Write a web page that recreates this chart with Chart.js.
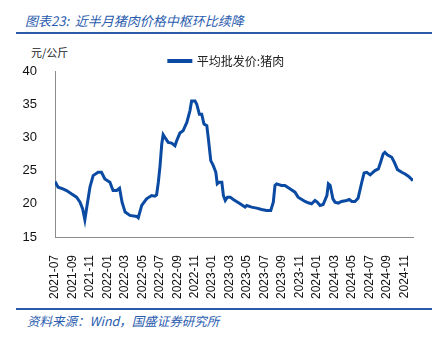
<!DOCTYPE html>
<html><head><meta charset="utf-8">
<script src="https://cdn.jsdelivr.net/npm/chart.js@4"></script>
<style>
html,body{margin:0;padding:0;background:#fff;}
#wrap{position:relative;width:444px;height:341px;overflow:hidden;}
#c{position:absolute;left:0;top:0;}
.title{position:absolute;left:25px;top:11px;font:italic 13px "Noto Sans CJK SC",sans-serif;color:#2a5cae;white-space:nowrap;}
.rule{position:absolute;left:16px;width:416px;height:2px;background:#2a5aa8;}
.unit{position:absolute;left:31px;top:44px;font:11px "Noto Sans CJK SC",sans-serif;color:#222;}
.src{position:absolute;left:27px;top:311px;font:italic 12.5px "Noto Sans CJK SC",sans-serif;color:#2a5cae;white-space:nowrap;}
</style></head>
<body><div id="wrap">
<div class="title">图表23:&nbsp;&nbsp;近半月猪肉价格中枢环比续降</div>
<div class="rule" style="top:32px"></div>
<div class="unit">元/公斤</div>
<canvas id="c" width="444" height="300"></canvas>
<div class="rule" style="top:308px"></div>
<div class="src">资料来源：Wind，国盛证券研究所</div>
</div>
<script>
const seriesName = '平均批发价:猪肉';
const dates = ['2021-07-01','2021-07-12','2021-07-29','2021-08-11','2021-08-28','2021-09-15','2021-09-27','2021-10-06','2021-10-14','2021-10-20',
'2021-11-01','2021-11-12','2021-11-29','2021-12-11','2021-12-23','2022-01-10','2022-01-21','2022-02-03','2022-02-12','2022-02-20',
'2022-03-02','2022-03-19','2022-04-12','2022-04-17','2022-04-29','2022-05-16','2022-06-03','2022-06-14','2022-06-20','2022-06-26',
'2022-07-02','2022-07-08','2022-07-13','2022-07-19','2022-07-31','2022-08-12','2022-08-24','2022-08-30','2022-09-10','2022-09-21',
'2022-10-04','2022-10-15','2022-10-21','2022-11-02','2022-11-08','2022-11-17','2022-11-25','2022-12-03','2022-12-13','2022-12-18',
'2022-12-27','2023-01-05','2023-01-14','2023-01-19','2023-01-26','2023-02-04','2023-02-09','2023-02-15','2023-02-22','2023-03-03',
'2023-03-14','2023-04-07','2023-04-24','2023-04-30','2023-05-17','2023-06-04','2023-06-21','2023-07-08','2023-07-23','2023-08-01',
'2023-08-07','2023-08-13','2023-08-30','2023-09-11','2023-09-28','2023-10-16','2023-10-27','2023-11-09','2023-11-20','2023-12-01',
'2023-12-13','2023-12-25','2024-01-02','2024-01-12','2024-01-23','2024-02-05','2024-02-10','2024-02-16','2024-02-25','2024-03-03',
'2024-03-15','2024-03-26','2024-04-13','2024-04-22','2024-05-01','2024-05-12','2024-05-23','2024-06-05','2024-06-13','2024-06-22',
'2024-07-04','2024-07-21','2024-08-02','2024-08-10','2024-08-19','2024-08-25','2024-09-04','2024-09-18','2024-09-27','2024-10-08',
'2024-10-23','2024-11-04','2024-11-15','2024-12-01'];
const prices = [23.35,22.5,22.25,22.0,21.5,21.0,20.25,19.25,17.6,19.25,
22.5,24.25,24.75,24.75,23.75,23.25,22.0,22.0,22.35,20.25,
18.75,18.25,18.1,17.9,19.75,20.75,21.25,21.15,21.35,23.25,
25.75,29.0,30.4,30.0,29.25,29.15,28.75,29.5,30.65,31.0,
32.25,34.0,35.5,35.5,35.0,33.5,33.5,32.0,31.75,30.0,
26.5,25.75,24.75,23.0,23.25,23.25,21.25,20.5,21.0,21.0,
20.65,20.0,19.5,19.75,19.5,19.35,19.15,19.0,19.0,20.25,
22.75,23.0,22.75,22.75,22.25,21.75,21.0,20.65,20.35,20.15,
20.0,20.5,20.25,19.75,19.9,21.25,23.0,22.75,20.75,20.25,
20.1,20.35,20.5,20.65,20.35,20.35,20.85,23.25,24.65,24.75,
24.35,25.0,25.25,26.25,27.5,27.75,27.35,27.0,26.25,25.15,
24.75,24.5,24.15,23.5];
const tickLabels = ['2021-07','2021-09','2021-11','2022-01','2022-03','2022-05','2022-07','2022-09','2022-11',
'2023-01','2023-03','2023-05','2023-07','2023-09','2023-11','2024-01','2024-03','2024-05','2024-07','2024-09','2024-11'];
const yTicks = [15,20,25,30,35,40];

function monthPos(s){
  const [y,m,d] = s.split('-').map(Number);
  const dim = new Date(y, m, 0).getDate();
  return (y-2021)*12 + (m-7) + (d-1)/dim;
}
function labelPos(s){ const [y,m] = s.split('-').map(Number); return (y-2021)*12 + (m-7); }
const points = dates.map((d,i)=>({x: monthPos(d), y: prices[i]}));
const blue = '#0b4aa2';
const axisGray = '#8c8c8c';

const legendShift = { id: 'legendShift', afterLayout(chart){ const l = chart.legend; if (l) { l.left += 20; l.right += 20; l.top += 6; l.bottom += 6; } } };

new Chart(document.getElementById('c'), {
  type: 'line',
  data: { datasets: [{ label: seriesName, data: points, borderColor: blue, backgroundColor: blue,
    borderWidth: 3, pointRadius: 0, tension: 0 }] },
  plugins: [legendShift],
  options: {
    responsive: false, animation: false,
    layout: { padding: { top: 47, right: 31, left: 0, bottom: 0 } },
    plugins: {
      legend: { display: true, position: 'top', align: 'center',
        labels: { boxWidth: 22, boxHeight: 1, padding: 2, color: '#222',
          font: { family: '"Noto Sans CJK SC", sans-serif', size: 12 } } },
      tooltip: { enabled: false }
    },
    scales: {
      x: { type: 'linear', min: 0, max: 41,
        afterBuildTicks: (s) => { s.ticks = tickLabels.map(t => ({ value: labelPos(t) })); },
        afterFit: (s) => { s.height = 63; },
        grid: { display: false },
        border: { display: true, color: axisGray, width: 1 },
        ticks: { autoSkip: false, maxRotation: 90, minRotation: 90, padding: 10, color: '#111',
          font: { family: '"Liberation Sans", Arial, sans-serif', size: 12 },
          callback: (v) => { const i = tickLabels.findIndex(t => labelPos(t) === v); return i >= 0 ? tickLabels[i] : ''; } }
      },
      y: { min: 15, max: 40,
        afterBuildTicks: (s) => { s.ticks = yTicks.map(v => ({ value: v })); },
        afterFit: (s) => { s.width = 55; },
        grid: { display: false },
        border: { display: true, color: axisGray, width: 1 },
        ticks: { padding: 10, color: '#111',
          font: { family: '"Liberation Sans", Arial, sans-serif', size: 13 } }
      }
    }
  }
});
</script></body></html>
